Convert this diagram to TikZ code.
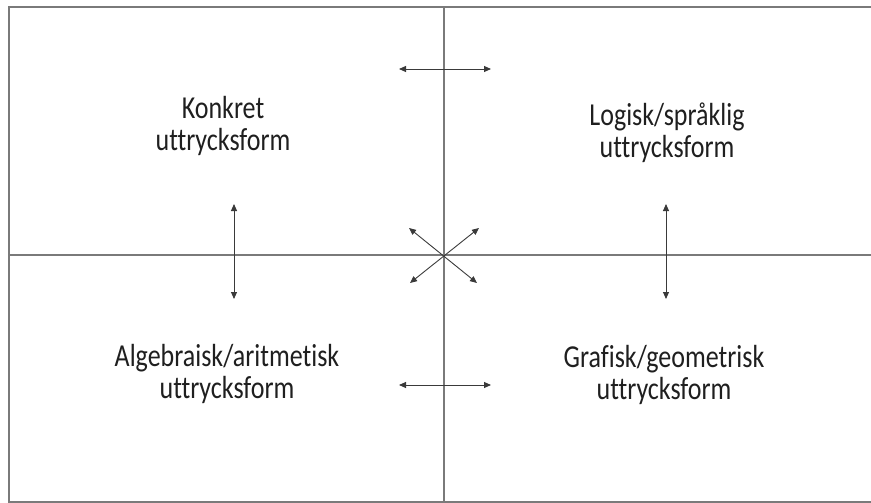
\documentclass[tikz,border=0pt]{standalone}
\usepackage{fontspec}
\setmainfont{Carlito}[Ligatures=NoCommon]
\usetikzlibrary{positioning, arrows.meta}
\definecolor{ramgray}{HTML}{7A7A7A}
\definecolor{pilgray}{HTML}{3A3A3A}
\newcommand{\tvarad}[2]{\scalebox{1}[1.23]{\begin{tabular}{@{}c@{}}#1\\#2\end{tabular}}}

\begin{document}
\begin{tikzpicture}[x=1pt, y=-1pt,
    ram/.style={draw=ramgray, line width=2pt},
    pil/.style={draw=pilgray, line width=0.9pt, {Triangle[length=7pt, width=6pt]}-{Triangle[length=7pt, width=6pt]}},
    txt/.style={inner sep=0pt, font=\fontsize{26}{26}\selectfont, text=black!88}]
    \useasboundingbox (0,0) rectangle (871,503);
    % frame and cross
    \draw[ram] (871,7) -- (9,7) -- (9,502) -- (871,502);
    \draw[ram] (444,7) -- (444,502);
    \draw[ram] (9,255) -- (871,255);
    % texts
    \node[txt] (konkret) at (223,128) {\tvarad{Konkret}{uttrycksform}};
    \node[txt] (logisk) at (667,135) {\tvarad{Logisk/språklig}{uttrycksform}};
    \node[txt] (algebra) at (227,376) {\tvarad{Algebraisk/aritmetisk}{uttrycksform}};
    \node[txt] (grafisk) at (664,377) {\tvarad{Grafisk/geometrisk}{uttrycksform}};
    % arrow ends
    \coordinate (topl) at (399,69);
    \coordinate (topr) at (491,69);
    \coordinate (botl) at (399,385);
    \coordinate (botr) at (491,385);
    \coordinate (lefu) at (234,204);
    \coordinate (lefd) at (234,299);
    \coordinate (rigu) at (666,204);
    \coordinate (rigd) at (666,299);
    \coordinate (ul) at (409,228);
    \coordinate (ur) at (479,228);
    \coordinate (dl) at (410,283);
    \coordinate (dr) at (477,283);
    \draw[pil] (topl) -- (topr);
    \draw[pil] (botl) -- (botr);
    \draw[pil] (lefu) -- (lefd);
    \draw[pil] (rigu) -- (rigd);
    \draw[pil] (ul) -- (dr);
    \draw[pil] (ur) -- (dl);
\end{tikzpicture}
\end{document}
